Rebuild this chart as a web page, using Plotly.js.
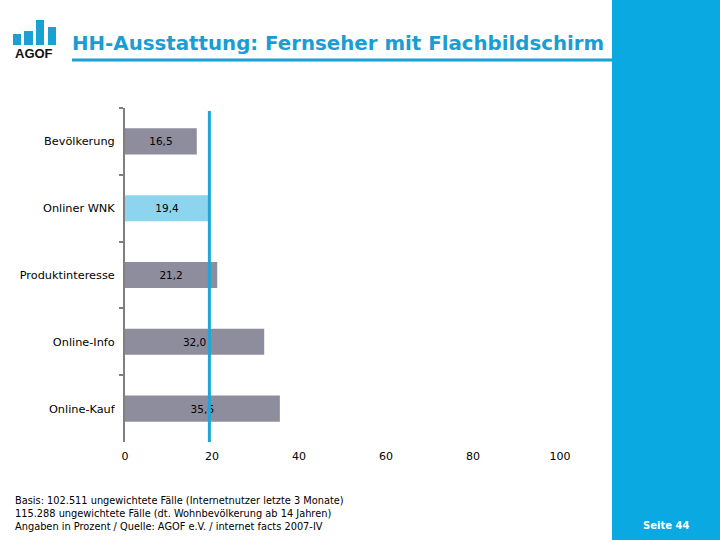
<!DOCTYPE html>
<html>
<head>
<meta charset="utf-8">
<script src="https://cdn.plot.ly/plotly-3.0.1.min.js"></script>
<style>html,body{margin:0;padding:0;background:#fff;}#chart{width:720px;height:540px;}</style>
</head>
<body>
<div id="chart"></div>
<script>
// Data
const categories = ["Bevölkerung", "Onliner WNK", "Produktinteresse", "Online-Info", "Online-Kauf"];
const values = [16.5, 19.4, 21.2, 32.0, 35.6];
const barColors = ["#8e8d9d", "#8dd4ee", "#8e8d9d", "#8e8d9d", "#8e8d9d"];
const referenceCategory = "Onliner WNK";
const xTicks = [0, 20, 40, 60, 80, 100];
const titleText = "HH-Ausstattung: Fernseher mit Flachbildschirm";
const footerLines = [
  "Basis: 102.511 ungewichtete Fälle (Internetnutzer letzte 3 Monate)",
  "115.288 ungewichtete Fälle (dt. Wohnbevölkerung ab 14 Jahren)",
  "Angaben in Prozent / Quelle: AGOF e.V. / internet facts 2007-IV"
];
const pageLabel = "Seite 44";

// Geometry helpers (pixel -> paper)
const L = 125, R = 560, T = 108, B = 442;
const px = x => (x - L) / (R - L);
const py = y => (B - y) / (B - T);

const refValue = values[categories.indexOf(referenceCategory)];

const trace = {
  type: "bar",
  orientation: "h",
  y: categories,
  x: values,
  marker: {color: barColors},
  texttemplate: "%{x:.1f}",
  textposition: "inside",
  insidetextanchor: "middle",
  textfont: {family: "DejaVu Sans, Verdana, sans-serif", size: 10.5, color: "#000"},
  constraintext: "none",
  hoverinfo: "skip"
};

const shapes = [
  // right blue strip
  {type: "rect", xref: "paper", yref: "paper", x0: px(612), x1: px(721), y0: py(541), y1: py(-1),
   fillcolor: "#0aa9e2", line: {width: 0}, layer: "below"},
  // title underline
  {type: "line", xref: "paper", yref: "paper", x0: px(72), x1: px(612), y0: py(60), y1: py(60),
   line: {color: "#1ba0d4", width: 3}},
  // reference line
  {type: "line", xref: "x", yref: "paper", x0: refValue, x1: refValue, y0: 0, y1: py(111),
   line: {color: "#1fa6d6", width: 3}},
  // logo bars
  {type: "rect", xref: "paper", yref: "paper", x0: px(13), x1: px(21), y0: py(45), y1: py(34), fillcolor: "#1ba0d4", line: {width: 0}},
  {type: "rect", xref: "paper", yref: "paper", x0: px(24), x1: px(33), y0: py(45), y1: py(31), fillcolor: "#1ba0d4", line: {width: 0}},
  {type: "rect", xref: "paper", yref: "paper", x0: px(36), x1: px(44), y0: py(45), y1: py(20), fillcolor: "#1ba0d4", line: {width: 0}},
  {type: "rect", xref: "paper", yref: "paper", x0: px(48), x1: px(56), y0: py(45), y1: py(27), fillcolor: "#1ba0d4", line: {width: 0}}
];

const annotations = [
  {xref: "paper", yref: "paper", x: px(34), y: py(54), text: "<b>AGOF</b>", showarrow: false,
   xanchor: "center", yanchor: "middle", font: {family: "Liberation Sans, Arial, sans-serif", size: 13, color: "#111"}},
  {xref: "paper", yref: "paper", x: px(666), y: py(525), text: "<b>" + pageLabel + "</b>", showarrow: false,
   xanchor: "center", yanchor: "middle", font: {family: "DejaVu Sans, Verdana, sans-serif", size: 10, color: "#fff"}}
];
footerLines.forEach((t, i) => {
  annotations.push({xref: "paper", yref: "paper", x: px(13), y: py(500 + 13 * i), text: t, showarrow: false,
    xanchor: "left", yanchor: "middle", font: {family: "DejaVu Sans, Verdana, sans-serif", size: 9.8, color: "#000"}});
});

const layout = {
  width: 720, height: 540,
  margin: {l: L, r: 720 - R, t: T, b: 540 - B, pad: 0},
  paper_bgcolor: "#fff", plot_bgcolor: "#fff",
  separators: ",.",
  showlegend: false,
  bargap: 0.61,
  title: {text: "<b>" + titleText + "</b>", xref: "container", yref: "container",
    x: 72 / 720, xanchor: "left", y: 1 - 43 / 540, yanchor: "middle",
    font: {family: "DejaVu Sans, Verdana, sans-serif", size: 19.8, color: "#1a9dd2"}},
  xaxis: {range: [0, 100], tickvals: xTicks, ticktext: xTicks.map(String), showgrid: false, zeroline: false,
    showline: false, ticks: "", ticklabelstandoff: 6,
    tickfont: {family: "DejaVu Sans, Verdana, sans-serif", size: 11, color: "#000"}, fixedrange: true},
  yaxis: {type: "category", autorange: "reversed", showgrid: false, zeroline: false,
    showline: true, linecolor: "#7f7f7f", linewidth: 2, ticks: "outside", tickson: "boundaries",
    ticklen: 4, tickcolor: "#7f7f7f", tickwidth: 2, ticklabelstandoff: 6,
    tickfont: {family: "DejaVu Sans, Verdana, sans-serif", size: 11.3, color: "#000"}, fixedrange: true},
  shapes: shapes,
  annotations: annotations
};

Plotly.newPlot("chart", [trace], layout, {displayModeBar: false, staticPlot: true});
</script>
</body>
</html>
